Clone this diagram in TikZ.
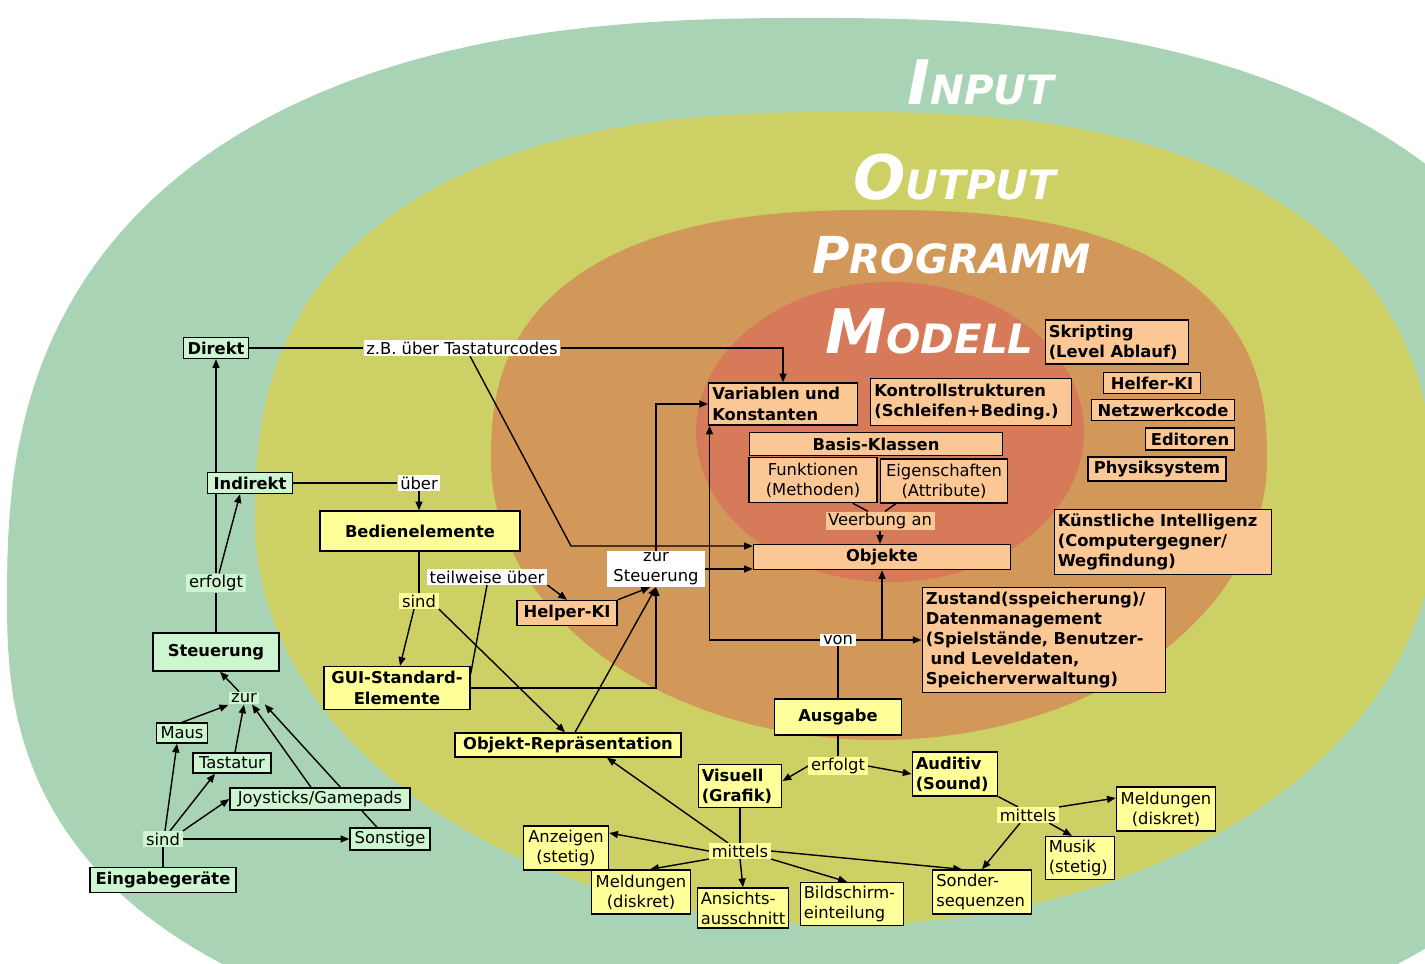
\documentclass[tikz,border=0pt]{standalone}
\usepackage{fontspec}
\setmainfont{DejaVu Sans}
\usetikzlibrary{arrows.meta}
\definecolor{bggreen}{RGB}{168,211,180}
\definecolor{bgyellow}{RGB}{205,208,100}
\definecolor{bgorange}{RGB}{210,152,90}
\definecolor{bgred}{RGB}{214,122,90}
\definecolor{ngreen}{RGB}{204,245,208}
\definecolor{nyellow}{RGB}{255,255,153}
\definecolor{npeach}{RGB}{251,199,148}
\newcommand\dfont{\fontsize{9.3}{11.5}\selectfont}
\newcommand\tbig{\fontsize{35}{35}\selectfont}
\newcommand\tpbig{\fontsize{29}{29}\selectfont}
\newcommand\tsml{\fontsize{23}{23}\selectfont}
\pgfdeclarelayer{back}
\pgfdeclarelayer{edges}
\pgfsetlayers{back,edges,main}
\tikzset{
  basebox/.style={draw=black, line width=0.8pt, inner xsep=2pt, inner ysep=1pt, font=\dfont},
  gb/.style={basebox, fill=ngreen},
  yb/.style={basebox, fill=nyellow},
  pb/.style={basebox, fill=npeach},
  bf/.style={font=\dfont\bfseries},
  sz/.style 2 args={minimum width=#1, minimum height=#2},
  lb/.style 2 args={align=left, text width=#1, minimum height=#2},
  lbl/.style={inner xsep=1.5pt, inner ysep=0.8pt, font=\dfont},
  ln/.style={line width=0.8pt},
  ar/.style={ln, -{Triangle[length=5pt,width=4pt]}},
  ttl/.style={text=white, font=\bfseries\itshape, anchor=base west, inner sep=0pt}
}
\begin{document}
\begin{tikzpicture}[x=0.02cm,y=-0.02cm]
\useasboundingbox (0,0) rectangle (1425,963);
\begin{pgfonlayer}{back}
\clip (0,0) rectangle (1425,963);
\fill[white] (0,0) rectangle (1425,963);
\fill[bggreen]
  plot[domain=0.5:179.5,samples=120] ({810+803*cos(\x)*abs(cos(\x))^(-0.2)},{600-582*sin(\x)^0.8})
  -- plot[domain=180.5:359.5,samples=120] ({810+803*cos(\x)*abs(cos(\x))^(-0.2)},{600+465*abs(sin(\x))^0.8})
  -- cycle;
\fill[bgyellow]
  plot[domain=0.5:179.5,samples=120] ({845+590*cos(\x)*abs(cos(\x))^(-0.2)},{520-408*sin(\x)^0.8})
  -- plot[domain=180:360,samples=120] ({845+590*cos(\x)},{520+405*abs(sin(\x))})
  -- cycle;
\fill[bgorange]
  plot[domain=0.5:179.5,samples=120] ({879+388*cos(\x)*abs(cos(\x))^(-0.2)},{460-250*sin(\x)^0.8})
  -- plot[domain=180:360,samples=120] ({879+388*cos(\x)},{460+280*abs(sin(\x))})
  -- cycle;
\fill[bgred] (890,432) ellipse [x radius=194, y radius=150];
\end{pgfonlayer}

% titles
\node[ttl] (tinput) at (907,105) {\tbig I\tsml NPUT};
\node[ttl] (toutput) at (853,199) {\tbig O\tsml UTPUT};
\node[ttl] (tprog) at (812,273) {\tpbig P\tsml ROGRAMM};
\node[ttl] (tmodell) at (825,353) {\tbig M\tsml ODELL};

% left (green) part
\node[gb,bf,sz={1.3cm}{0.42cm}] (direkt) at (216,348) {Direkt};
\node[lbl,fill=white] (zb) at (462,348) {z.B. über Tastaturcodes};
\node[gb,bf,sz={1.7cm}{0.42cm}] (indirekt) at (250,483) {Indirekt};
\node[lbl,fill=white] (ueber) at (419,483) {über};
\node[lbl,fill=ngreen] (erf1) at (216,583) {erfolgt};
\node[gb,bf,sz={2.52cm}{0.76cm}] (steuer) at (216,652) {Steuerung};
\node[lbl,fill=ngreen] (zur1) at (244,698) {zur};
\node[gb,sz={1.02cm}{0.4cm}] (maus) at (182,733) {Maus};
\node[gb,sz={1.56cm}{0.4cm}] (tast) at (232,763) {Tastatur};
\node[gb,sz={3.6cm}{0.44cm}] (joy) at (320,799) {Joysticks/Gamepads};
\node[gb,sz={1.6cm}{0.44cm}] (sonst) at (390,839) {Sonstige};
\node[lbl,fill=ngreen] (sind1) at (163,839) {sind};
\node[gb,bf,sz={2.92cm}{0.5cm}] (eing) at (163,880) {Eingabegeräte};

% middle (yellow) part
\node[yb,bf,sz={4cm}{0.8cm}] (bedien) at (420,531) {Bedienelemente};
\node[lbl,fill=white] (teil) at (487,577) {teilweise über};
\node[lbl,fill=nyellow] (sind2) at (419,601) {sind};
\node[pb,bf,sz={2cm}{0.5cm}] (helper) at (567,613) {Helper-KI};
\node[lbl,fill=white,align=center,sz={1.96cm}{0.7cm}] (zurst) at (656,569) {zur\\Steuerung};
\node[yb,bf,align=center,sz={2.92cm}{0.86cm}] (gui) at (397,688) {GUI-Standard-\\Elemente};
\node[yb,bf,sz={4.52cm}{0.48cm}] (objrep) at (568,745) {Objekt-Repräsentation};

% model (red) part
\node[pb,bf,lb={2.83cm}{0.84cm}] (var) at (783,404) {Variablen und\\Konstanten};
\node[pb,bf,lb={3.87cm}{0.94cm}] (kontroll) at (971,402) {Kontrollstrukturen\\(Schleifen+Beding.)};
\node[pb,bf,sz={5.06cm}{0.46cm}] (basis) at (876,444) {Basis-Klassen};
\node[pb,align=center,sz={2.56cm}{0.9cm}] (funk) at (813,480) {Funktionen\\(Methoden)};
\node[pb,align=center,sz={2.54cm}{0.88cm}] (eigen) at (944,481) {Eigenschaften\\(Attribute)};
\node[lbl,fill=npeach] (veerb) at (880,521) {Veerbung an};
\node[pb,bf,sz={5.14cm}{0.5cm}] (objekte) at (882,557) {Objekte};
\node[pb,bf,lb={4.73cm}{2.1cm}] (zustand) at (1044,640) {Zustand(sspeicherung)/\\Datenmanagement\\(Spielstände, Benutzer-\\\hspace*{0.3em}und Leveldaten,\\Speicherverwaltung)};
\node[lbl,fill=white] (von) at (838,640) {von};

% program (orange) right side
\node[pb,bf,lb={2.73cm}{0.88cm}] (skript) at (1117,342) {Skripting\\(Level Ablauf)};
\node[pb,bf,sz={1.94cm}{0.42cm}] (helfer) at (1152,383) {Helfer-KI};
\node[pb,bf,sz={2.86cm}{0.42cm}] (netz) at (1163,410) {Netzwerkcode};
\node[pb,bf,sz={1.78cm}{0.44cm}] (edit) at (1190,439) {Editoren};
\node[pb,bf,sz={2.76cm}{0.48cm}] (phys) at (1157,469) {Physiksystem};
\node[pb,bf,lb={4.21cm}{1.3cm}] (kuenst) at (1163,542) {Künstliche Intelligenz\\(Computergegner/\\Wegfindung)};

% output part
\node[yb,bf,sz={2.54cm}{0.72cm}] (ausgabe) at (838,717) {Ausgabe};
\node[lbl,fill=nyellow] (erf2) at (838,766) {erfolgt};
\node[yb,bf,lb={1.53cm}{0.86cm}] (visuell) at (740,786) {Visuell\\(Grafik)};
\node[yb,bf,lb={1.57cm}{0.88cm}] (auditiv) at (955,774) {Auditiv\\(Sound)};
\node[lbl,fill=nyellow] (mit1) at (1028,815) {mittels};
\node[yb,align=center,sz={1.98cm}{0.88cm}] (meld1) at (1166,809) {Meldungen\\(diskret)};
\node[yb,lb={1.25cm}{0.86cm}] (musik) at (1080,858) {Musik\\(stetig)};
\node[yb,lb={1.83cm}{0.88cm}] (sonder) at (982,892) {Sonder-\\sequenzen};
\node[lbl,fill=nyellow] (mit2) at (740,851) {mittels};
\node[yb,align=center,sz={1.7cm}{0.88cm}] (anz) at (566,848) {Anzeigen\\(stetig)};
\node[yb,align=center,sz={1.98cm}{0.88cm}] (meld2) at (641,892) {Meldungen\\(diskret)};
\node[yb,lb={1.69cm}{0.8cm}] (ansicht) at (743,908) {Ansichts-\\ausschnitt};
\node[yb,lb={1.93cm}{0.86cm}] (bild) at (852,904) {Bildschirm-\\einteilung};

\begin{pgfonlayer}{edges}
\draw[ln] (direkt.east) -- (zb.west);
\draw[ar] (zb.east) -| (var.north);
\coordinate (k1) at (571,546);
\draw[ar] ([xshift=0.16cm]zb.south) -- (k1) -- (k1 -| objekte.west);
\draw[ln] (steuer.north) -- (erf1.south);
\draw[ar] (erf1.north) -- (direkt.south);
\draw[ar] ([xshift=0.06cm]erf1.north) -- ([xshift=-0.2cm]indirekt.south);
\draw[ln] (indirekt.east) -- (ueber.west);
\draw[ar] (ueber.south) -- (ueber.south |- bedien.north);
\draw[ln] (bedien.south -| sind2.north) -- (sind2.north);
\draw[ar] ([xshift=-0.1cm]sind2.south) -- ([xshift=0.06cm]gui.north);
\draw[ar] (sind2.south east) -- ([xshift=-0.06cm]objrep.north);
\draw[ln] ([yshift=-0.16cm]gui.north east) -- (teil.south);
\draw[ar] (teil.south east) -- (helper.north);
\draw[ar] (gui.east) -| (zurst.south);
\draw[ar] (helper.north east) -- ([xshift=-0.12cm]zurst.south);
\draw[ar] ([xshift=0.14cm]objrep.north) -- (zurst.south);
\draw[ar] (zurst.north) |- (var.west);
\draw[ar] (zurst.east) -- (zurst.east -| objekte.west);
\draw[ln] ([xshift=-0.5cm]funk.south east) -- ([xshift=-0.24cm]veerb.north);
\draw[ln] ([xshift=0.32cm]eigen.south west) -- ([xshift=0.1cm]veerb.north);
\draw[ar] (veerb.south) -- (veerb.south |- objekte.north);
\draw[ln] (ausgabe.north) -- (von.south);
\draw[ar] (von.west) -| ([xshift=0.03cm]var.south west);
\draw[ar] (von.east) -- (von.east -| zustand.west);
\draw[ar] (von.east -| objekte.south) -- (objekte.south);
\draw[ln] (ausgabe.south) -- (erf2.north);
\draw[ar] (erf2.west) -- ([yshift=0.1cm]visuell.east);
\draw[ar] (erf2.east) -- (auditiv.west);
\draw[ln] (auditiv.south east) -- ([xshift=-0.2cm]mit1.north);
\draw[ar] (mit1.north east) -- ([yshift=0.22cm]meld1.west);
\draw[ar] ([xshift=-0.2cm]mit1.south east) -- ([xshift=-0.16cm]musik.north);
\draw[ar] ([xshift=-0.16cm]mit1.south) -- (sonder.north);
\draw[ln] (visuell.south) -- (mit2.north);
\draw[ar] ([xshift=-0.24cm]mit2.north) -- ([xshift=0.78cm]objrep.south);
\draw[ar] (mit2.west) -- ([yshift=0.3cm]anz.east);
\draw[ar] (mit2.south west) -- ([xshift=0.18cm]meld2.north);
\draw[ar] (mit2.south) -- (ansicht.north);
\draw[ar] (mit2.south east) -- ([xshift=-0.1cm]bild.north);
\draw[ar] (mit2.east) -- ([xshift=0.6cm]sonder.north west);
\draw[ln] (eing.north) -- (sind1.south);
\draw[ar] ([xshift=0.04cm]sind1.north) -- ([xshift=-0.1cm]maus.south);
\draw[ar] ([xshift=0.14cm]sind1.north) -- ([xshift=-0.34cm]tast.south);
\draw[ar] (sind1.north east) -- (joy.west);
\draw[ar] (sind1.east) -- (sonst.west);
\draw[ar] (maus.north) -- ([yshift=-0.14cm]zur1.west);
\draw[ar] ([xshift=0.06cm]tast.north) -- (zur1.south);
\draw[ar] ([xshift=-0.18cm]joy.north) -- ([xshift=0.16cm]zur1.south);
\draw[ar] ([xshift=-0.26cm]sonst.north) -- ([xshift=0.1cm]zur1.south east);
\draw[ar] ([xshift=-0.1cm]zur1.north) -- ([xshift=0.08cm]steuer.south);
\end{pgfonlayer}
\end{tikzpicture}
\end{document}
